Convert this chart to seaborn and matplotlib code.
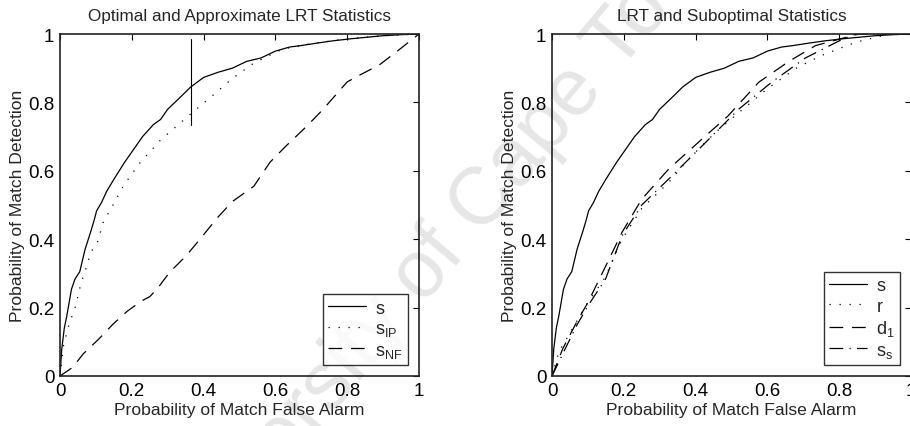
import numpy as np
import pandas as pd
import matplotlib
matplotlib.use("Agg")
import matplotlib.pyplot as plt
import seaborn as sns

sns.set_theme(style="white")
plt.rcParams["font.family"] = ["Liberation Sans", "DejaVu Sans"]
plt.rcParams["mathtext.fontset"] = "custom"
plt.rcParams["mathtext.rm"] = "Liberation Sans"
plt.rcParams["mathtext.it"] = "Liberation Sans"

# ROC curves: (false alarm, detection)
s_pfa = [0.0, 0.005, 0.012, 0.019, 0.032, 0.042, 0.055, 0.070, 0.085, 0.095, 0.102,
         0.116, 0.130, 0.150, 0.180, 0.200, 0.230, 0.260, 0.280, 0.300, 0.330, 0.364,
         0.400, 0.440, 0.480, 0.520, 0.560, 0.600, 0.640, 0.670, 0.720, 0.760, 0.810,
         0.850, 0.900, 0.950, 1.0]
s_pd = [0.0, 0.080, 0.140, 0.176, 0.254, 0.284, 0.305, 0.371, 0.420, 0.455, 0.483,
        0.508, 0.540, 0.575, 0.625, 0.655, 0.700, 0.735, 0.750, 0.780, 0.810, 0.845,
        0.873, 0.888, 0.900, 0.920, 0.930, 0.950, 0.962, 0.966, 0.974, 0.980, 0.986,
        0.990, 0.995, 0.998, 1.0]

sip_pfa = [0.0, 0.010, 0.025, 0.042, 0.058, 0.072, 0.086, 0.105, 0.123, 0.137, 0.176,
           0.220, 0.280, 0.364, 0.436, 0.480, 0.540, 0.620, 0.700, 0.800, 0.900, 1.0]
sip_pd = [0.0, 0.090, 0.150, 0.200, 0.269, 0.313, 0.362, 0.393, 0.459, 0.479, 0.555,
          0.620, 0.690, 0.766, 0.830, 0.870, 0.915, 0.956, 0.972, 0.986, 0.995, 1.0]

snf_pfa = [0.0, 0.035, 0.065, 0.110, 0.148, 0.188, 0.228, 0.250, 0.270, 0.306, 0.350,
           0.390, 0.436, 0.480, 0.540, 0.585, 0.630, 0.687, 0.733, 0.800, 0.835, 0.890,
           0.947, 1.0]
snf_pd = [0.0, 0.025, 0.065, 0.110, 0.152, 0.190, 0.220, 0.232, 0.254, 0.304, 0.350,
          0.400, 0.460, 0.510, 0.555, 0.625, 0.673, 0.730, 0.780, 0.860, 0.880, 0.910,
          0.956, 1.0]

r_pfa = [0.0, 0.019, 0.056, 0.100, 0.149, 0.195, 0.250, 0.325, 0.380, 0.455, 0.520,
         0.600, 0.680, 0.750, 0.846, 0.940, 1.0]
r_pd = [0.0, 0.070, 0.137, 0.215, 0.290, 0.400, 0.490, 0.566, 0.634, 0.712, 0.770,
        0.840, 0.900, 0.937, 0.976, 1.0, 1.0]

d1_pfa = [0.0, 0.030, 0.070, 0.100, 0.149, 0.195, 0.250, 0.325, 0.418, 0.490, 0.576,
          0.660, 0.734, 0.800, 0.855, 1.0]
d1_pd = [0.0, 0.080, 0.160, 0.215, 0.320, 0.420, 0.517, 0.605, 0.693, 0.760, 0.859,
         0.920, 0.966, 0.985, 1.0, 1.0]

ss_pfa = [0.0, 0.037, 0.070, 0.100, 0.149, 0.195, 0.250, 0.334, 0.428, 0.520, 0.613,
          0.706, 0.800, 0.846, 1.0]
ss_pd = [0.0, 0.080, 0.150, 0.205, 0.283, 0.410, 0.500, 0.585, 0.683, 0.780, 0.860,
         0.930, 0.980, 1.0, 1.0]

# operating-point marker on the left panel
marker_pfa = [0.364, 0.364]
marker_pd = [0.734, 0.985]

ticks = [0, 0.2, 0.4, 0.6, 0.8, 1]
tick_labels = ["0", "0.2", "0.4", "0.6", "0.8", "1"]

W, H = 910, 427
fig = plt.figure(figsize=(W / 100, H / 100), dpi=100)

# faint diagonal watermark behind both panels
fig.text(0.488, 0.42, "University of Cape Town", fontsize=58, rotation=50,
         color="#e6e6e6", ha="center", va="center", zorder=-5,
         rotation_mode="anchor")

ax1 = fig.add_axes([60 / W, 50 / H, 359 / W, 342 / H])
ax2 = fig.add_axes([552 / W, 50 / H, 359 / W, 342 / H])

lw = 0.9
styles = {
    "solid": dict(linestyle="-"),
    "dot": dict(linestyle=(0, (1, 7))),
    "dash": dict(linestyle=(0, (11, 7))),
    "dashdot": dict(linestyle=(0, (11, 5, 1, 5))),
}

def curve(ax, x, y, label, style):
    df = pd.DataFrame({"pfa": x, "pd": y})
    sns.lineplot(data=df, x="pfa", y="pd", ax=ax, color="black", linewidth=lw,
                 sort=False, estimator=None, label=label, **styles[style])

curve(ax1, s_pfa, s_pd, r"$\mathregular{s}$", "solid")
curve(ax1, sip_pfa, sip_pd, r"$\mathregular{s_{IP}}$", "dot")
curve(ax1, snf_pfa, snf_pd, r"$\mathregular{s_{NF}}$", "dash")
ax1.plot(marker_pfa, marker_pd, color="black", linewidth=0.8)

curve(ax2, s_pfa, s_pd, r"$\mathregular{s}$", "solid")
curve(ax2, r_pfa, r_pd, r"$\mathregular{r}$", "dot")
curve(ax2, d1_pfa, d1_pd, r"$\mathregular{d_1}$", "dash")
curve(ax2, ss_pfa, ss_pd, r"$\mathregular{s_s}$", "dashdot")

titles = ["Optimal and Approximate LRT Statistics", "LRT and Suboptimal Statistics"]
for ax, title in zip([ax1, ax2], titles):
    ax.set_facecolor("none")
    ax.set_xlim(0, 1)
    ax.set_ylim(0, 1)
    ax.set_xticks(ticks)
    ax.set_yticks(ticks)
    ax.set_xticklabels(tick_labels)
    ax.set_yticklabels(tick_labels)
    ax.tick_params(direction="in", length=4, width=0.8, top=True, right=True,
                   labelsize=13.5, pad=4, colors="black")
    for sp in ax.spines.values():
        sp.set_color("#222222")
        sp.set_linewidth(1.2)
    ax.set_title(title, fontsize=12.3, pad=10)
    ax.set_xlabel("Probability of Match False Alarm", fontsize=12.6, labelpad=2.5)
    ax.set_ylabel("Probability of Match Detection", fontsize=12.6, labelpad=2)
    leg = ax.legend(loc="lower right", fontsize=13, frameon=True, fancybox=False,
                    edgecolor="black", handlelength=2.1, handletextpad=0.5,
                    borderpad=0.3, labelspacing=0.2, borderaxespad=0.6)
    leg.get_frame().set_linewidth(1.0)

fig.savefig("out.png", dpi=100)
